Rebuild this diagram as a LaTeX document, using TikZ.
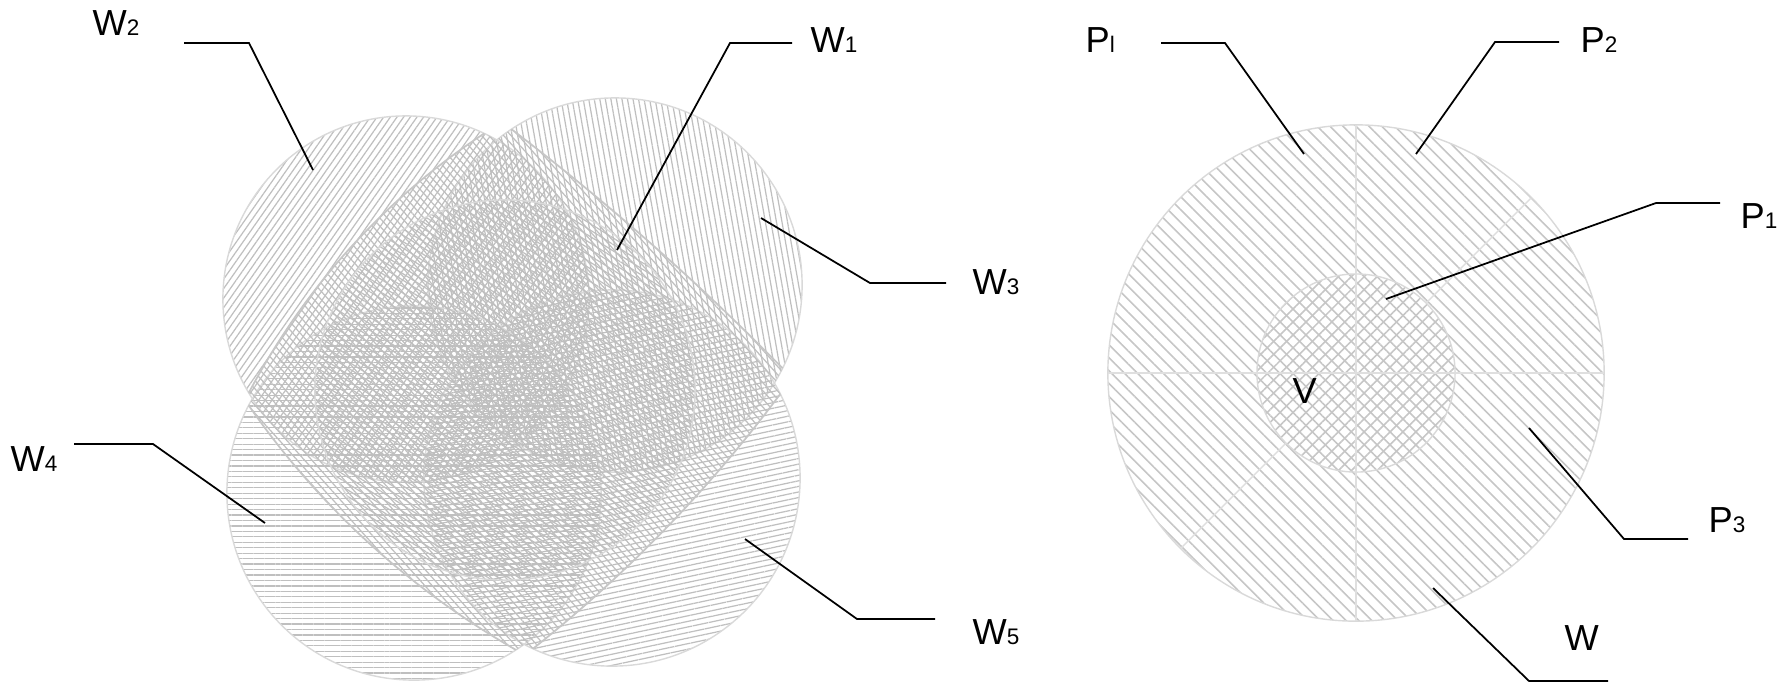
\documentclass[tikz,border=0pt]{standalone}
\usepackage{fontspec}
\setmainfont{Liberation Sans}
\usetikzlibrary{patterns.meta,calc}
\newcommand{\subdig}[1]{{\fontsize{6.4}{7}\selectfont #1}}
\begin{document}
\begin{tikzpicture}[x=0.01cm,y=-0.01cm,
  lbl/.style={anchor=base west,inner sep=0pt,font=\fontsize{10.3}{12}\selectfont},
  leader/.style={line width=0.5pt,black},
  ring/.style={draw=gray!30,line width=0.4pt},
  hatchL/.style={pattern={Lines[angle=#1,distance=1.55pt,line width=0.35pt]},pattern color=gray!50},
  hatchR/.style={pattern={Lines[angle=#1,distance=2.6pt,line width=0.45pt]},pattern color=gray!45},
  faint/.style={draw=gray!25,line width=0.4pt}]
\useasboundingbox (0,0) rectangle (1788,684);
% ---------- left panel ----------
\path[ring,hatchL=55] (406,299) circle [radius=1.83cm];
\path[ring,hatchL=100] (615,285) circle [radius=1.87cm];
\path[ring,hatchL=0] (414,493) circle [radius=1.87cm];
\path[ring,hatchL=12] (612,478) circle [radius=1.88cm];
\begin{scope}
  \clip (406,299) circle [radius=1.83cm] (615,285) circle [radius=1.87cm]
        (414,493) circle [radius=1.87cm] (612,478) circle [radius=1.88cm];
  \path[draw=gray!45,line width=0.5pt,hatchL=-48] (502,122) .. controls (391,191) and (305,284) .. (245,400)
     .. controls (318,507) and (412,592) .. (525,655)
     .. controls (627,575) and (716,483) .. (792,378)
     .. controls (702,285) and (605,200) .. cycle;
\end{scope}
\path[ring,hatchL=148] (505,390) circle [radius=1.9cm];
% labels left
\node[lbl] (w2) at (92,35) {W\subdig{2}};
\node[lbl] (w1) at (810,52) {W\subdig{1}};
\node[lbl] (w3) at (972,294) {W\subdig{3}};
\node[lbl] (w4) at (10,471) {W\subdig{4}};
\node[lbl] (w5) at (972,644) {W\subdig{5}};
\coordinate (w2a) at (184,43); \coordinate (w2b) at (249,43); \coordinate (w2c) at (313,170);
\coordinate (w1a) at (792,43); \coordinate (w1b) at (730,43); \coordinate (w1c) at (617,250);
\coordinate (w3a) at (946,283); \coordinate (w3b) at (870,283); \coordinate (w3c) at (761,218);
\coordinate (w4a) at (74,444); \coordinate (w4b) at (153,444); \coordinate (w4c) at (265,523);
\coordinate (w5a) at (935,619); \coordinate (w5b) at (857,619); \coordinate (w5c) at (745,539);
\draw[leader] (w2a) -- (w2b) -- (w2c);
\draw[leader] (w1a) -- (w1b) -- (w1c);
\draw[leader] (w3a) -- (w3b) -- (w3c);
\draw[leader] (w4a) -- (w4b) -- (w4c);
\draw[leader] (w5a) -- (w5b) -- (w5c);
% ---------- right panel ----------
\coordinate (O) at (1356,373);
\path[ring,hatchR=-45] (O) circle [radius=2.48cm];
\path[ring,hatchR=45] (O) circle [radius=0.99cm];
\draw[faint] ($(O)+(0,-248)$) -- ($(O)+(0,248)$);
\draw[faint] ($(O)+(-248,0)$) -- ($(O)+(248,0)$);
\draw[faint] ($(O)+(70,-70)$) -- ($(O)+(175,-175)$);
\draw[faint] ($(O)+(-70,70)$) -- ($(O)+(-175,175)$);
\node[lbl] (v) at (1292,403) {V};
\node[lbl] (pl) at (1085,52) {P\subdig{l}};
\node[lbl] (p2) at (1580,52) {P\subdig{2}};
\node[lbl] (p1) at (1740,228) {P\subdig{1}};
\node[lbl] (p3) at (1708,532) {P\subdig{3}};
\node[lbl] (ww) at (1564,650) {W};
\coordinate (pla) at (1161,43); \coordinate (plb) at (1225,43); \coordinate (plc) at (1304,154);
\coordinate (p2a) at (1559,42); \coordinate (p2b) at (1495,42); \coordinate (p2c) at (1416,154);
\coordinate (p1a) at (1720,203); \coordinate (p1b) at (1656,203); \coordinate (p1c) at (1386,299);
\coordinate (p3a) at (1688,539); \coordinate (p3b) at (1624,539); \coordinate (p3c) at (1529,428);
\coordinate (wwa) at (1608,681); \coordinate (wwb) at (1529,681); \coordinate (wwc) at (1433,588);
\draw[leader] (pla) -- (plb) -- (plc);
\draw[leader] (p2a) -- (p2b) -- (p2c);
\draw[leader] (p1a) -- (p1b) -- (p1c);
\draw[leader] (p3a) -- (p3b) -- (p3c);
\draw[leader] (wwa) -- (wwb) -- (wwc);
\end{tikzpicture}
\end{document}
